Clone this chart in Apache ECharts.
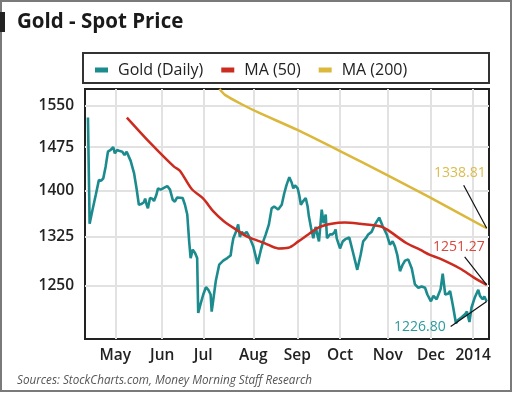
<!DOCTYPE html>
<html><head><meta charset="utf-8">
<script src="https://cdn.jsdelivr.net/npm/echarts@6/dist/echarts.min.js"></script>
<style>html,body{margin:0;padding:0;background:#fff}#c{width:520px;height:393px}</style>
</head><body><div id="c"></div>
<script>
// x = trading-day index counted from 12 Apr 2013
const monthTicks = [13, 35.3, 54.8, 78.6, 99.5, 119.8, 142.5, 163, 183.1];
const monthLabels = ['May', 'Jun', 'Jul', 'Aug', 'Sep', 'Oct', 'Nov', 'Dec', '2014'];
const priceTicks = [1250, 1325, 1400, 1475, 1550];
const seriesNames = ['Gold (Daily)', 'MA (50)', 'MA (200)'];

const goldDaily = [[0,1528],[0.8,1346],[2,1366],[3.7,1393],[5.2,1418],[6.3,1417],[7.3,1421],[8.4,1441],[9.5,1467],[10.8,1470],[12,1475],[12.8,1464],[13.9,1470],[15.2,1468],[16.3,1467],[17.4,1461],[18.4,1467],[19.2,1470],[20.3,1451],[21.9,1430],[23.1,1404],[24.2,1377],[25.3,1378],[26.6,1381],[27.2,1387],[27.9,1377],[28.5,1371],[29.5,1388],[30.6,1387],[31.4,1383],[32.5,1393],[33.3,1404],[34.6,1402],[36.1,1405],[37.7,1408],[39,1402],[40.3,1385],[41.3,1382],[42.4,1389],[45,1388],[46.1,1377],[47.2,1361],[48.1,1318],[48.8,1292],[49.8,1305],[50.9,1300],[51.9,1292],[52.4,1210],[53.6,1224],[54.8,1237],[56.1,1248],[57.2,1244],[58.3,1237],[58.8,1212],[59.6,1230],[60.8,1258],[62.4,1282],[64.3,1288],[66.2,1292],[67.8,1296],[68.4,1310],[69.1,1323],[70.3,1333],[71.4,1345],[72.2,1325],[73.1,1333],[74.1,1329],[75.4,1333],[77,1323],[78.6,1310],[80.6,1283],[82.2,1305],[83.3,1318],[84.5,1329],[85.4,1330],[86,1345],[87.3,1371],[88.5,1374],[90.4,1369],[92.1,1377],[93.3,1396],[94.4,1410],[95.7,1423],[96.8,1414],[97.6,1404],[98.4,1409],[99.7,1404],[100.4,1393],[101.2,1377],[102.3,1383],[103.5,1388],[104.4,1374],[105,1358],[106,1340],[107.1,1323],[108.2,1341],[109.2,1326],[109.8,1318],[111.1,1369],[112,1347],[113,1361],[113.6,1323],[115,1329],[116.1,1329],[117.1,1332],[117.7,1337],[118.2,1323],[119,1323],[119.8,1307],[121.1,1318],[122.6,1322],[124.2,1324],[125.8,1303],[128,1274],[129.6,1297],[130.8,1318],[132.1,1323],[133.2,1329],[134.8,1333],[136.4,1345],[138.4,1356],[140.1,1342],[142,1329],[143.5,1313],[144.8,1318],[145.9,1310],[147,1297],[148.3,1272],[149.6,1282],[150.7,1288],[152.2,1290],[153.9,1276],[155.4,1252],[157,1247],[158.6,1249],[160.2,1247],[161.3,1237],[163,1227],[164.2,1235],[165.7,1230],[167.6,1245],[168.6,1268],[169.8,1237],[171.1,1238],[172.1,1242],[173,1228],[173.6,1218],[174.9,1195],[175.9,1200],[177.6,1204],[179.2,1208],[180.1,1212],[181.3,1197],[182.3,1218],[183.9,1233],[185.5,1244],[186.3,1235],[187.6,1230],[188.4,1234],[189.5,1226.8]];

const ma50 = [[18.5,1528],[29.7,1482],[40.9,1441],[43.7,1434],[49.3,1403],[54.8,1387],[59.6,1366],[64.3,1351],[70.7,1336],[75.4,1326],[81.7,1318],[84.1,1315],[90.4,1307],[95.2,1308],[100,1318],[104.7,1329],[109.5,1340],[115.8,1346],[122.1,1348],[129.3,1346],[138.8,1342],[142,1337],[151.5,1315],[157.8,1305],[162.5,1297],[167.3,1291],[176.8,1276],[183.1,1263],[189.5,1251.27]];

const ma200 = [[62.5,1581],[65.1,1570],[73.3,1552],[81.7,1536],[99.3,1506],[119.8,1468],[142,1427],[162.5,1389],[189.5,1338.81]];

const endLabels = ['1226.80', '1251.27', '1338.81'];
const colors = ['#1b8b8e', '#cc2b1f', '#dbb83c'];
const labelColors = ['#2a9a9d', '#d9473d', '#dcbc4c'];

const FONT = "'Open Sans', 'DejaVu Sans', sans-serif";
const chart = echarts.init(document.getElementById('c'), null, {renderer: 'canvas'});

function nearestLabel(v) {
  let best = 0;
  for (let i = 1; i < monthTicks.length; i++) if (Math.abs(monthTicks[i] - v) < Math.abs(monthTicks[best] - v)) best = i;
  return monthLabels[best];
}

chart.setOption({
  animation: false,
  backgroundColor: '#fff',
  grid: {left: 85, right: 31, top: 89, bottom: 54, show: true, borderColor: '#222', borderWidth: 2, backgroundColor: 'transparent'},
  legend: {
    left: 90, top: 57, icon: 'rect', itemWidth: 13, itemHeight: 5, itemGap: 18,
    data: seriesNames,
    textStyle: {fontFamily: FONT, fontSize: 16, color: '#222', padding: [0, 0, 0, 5]}
  },
  xAxis: {
    type: 'value', min: -1.4, max: 190.6,
    axisLine: {show: false},
    axisTick: {show: false, customValues: monthTicks},
    splitLine: {show: true, lineStyle: {color: '#e2e2e2', width: 2}},
    axisLabel: {customValues: monthTicks, formatter: nearestLabel, fontFamily: FONT, fontSize: 15.5, fontWeight: 600, color: '#222', margin: 9}
  },
  yAxis: {
    type: 'log', min: 1173, max: 1581,
    axisLine: {show: false},
    axisTick: {show: false, customValues: priceTicks},
    splitLine: {show: true, lineStyle: {color: '#e2e2e2', width: 2}},
    axisLabel: {customValues: priceTicks, formatter: v => String(Math.round(v)), fontFamily: FONT, fontSize: 15.5, fontWeight: 600, color: '#222', margin: 11}
  },
  series: [
    {name: seriesNames[0], type: 'line', data: goldDaily, showSymbol: false, symbol: 'none', color: colors[0], lineStyle: {width: 2.6, color: colors[0]}},
    {name: seriesNames[1], type: 'line', data: ma50, showSymbol: false, symbol: 'none', smooth: 0.3, color: colors[1], lineStyle: {width: 2.5, color: colors[1]}},
    {name: seriesNames[2], type: 'line', data: ma200, showSymbol: false, symbol: 'none', smooth: 0.2, color: colors[2], lineStyle: {width: 2.5, color: colors[2]}}
  ]
});

// end-value annotations anchored to the last data point of each series
const lastPts = [goldDaily[goldDaily.length - 1], ma50[ma50.length - 1], ma200[ma200.length - 1]];
const textOffsets = [[-41, 26], [-2, -38], [-1, -55]];
const lineOffsets = [[-36, 25], [-22, -28], [-23, -43]];
const graphics = [
  {type: 'rect', shape: {x: 1, y: 1, width: 510, height: 390}, style: {fill: 'none', stroke: '#7a7a7a', lineWidth: 2}},
  {type: 'rect', shape: {x: 0, y: 12, width: 5, height: 20}, style: {fill: '#222'}},
  {type: 'text', x: 17, y: 22, style: {text: 'Gold - Spot Price', font: "bold 20.5px " + FONT, fill: '#1a1a1a', textVerticalAlign: 'middle'}},
  {type: 'rect', shape: {x: 83, y: 53, width: 406, height: 30}, style: {fill: 'none', stroke: '#333', lineWidth: 2}},
  {type: 'text', x: 17, y: 381, style: {text: 'Sources: StockCharts.com, Money Morning Staff Research', font: "italic 11.7px " + FONT, fill: '#555', textVerticalAlign: 'middle'}}
];
lastPts.forEach((p, i) => {
  const px = chart.convertToPixel({xAxisIndex: 0, yAxisIndex: 0}, p);
  graphics.push({type: 'line', z: 10, shape: {x1: px[0] + lineOffsets[i][0], y1: px[1] + lineOffsets[i][1], x2: px[0], y2: px[1]}, style: {stroke: '#111', lineWidth: 1.2}});
  graphics.push({type: 'text', z: 10, x: px[0] + textOffsets[i][0], y: px[1] + textOffsets[i][1], style: {text: endLabels[i], font: "14px " + FONT, fill: labelColors[i], textAlign: 'right', textVerticalAlign: 'middle'}});
});
chart.setOption({graphic: graphics});
</script></body></html>
